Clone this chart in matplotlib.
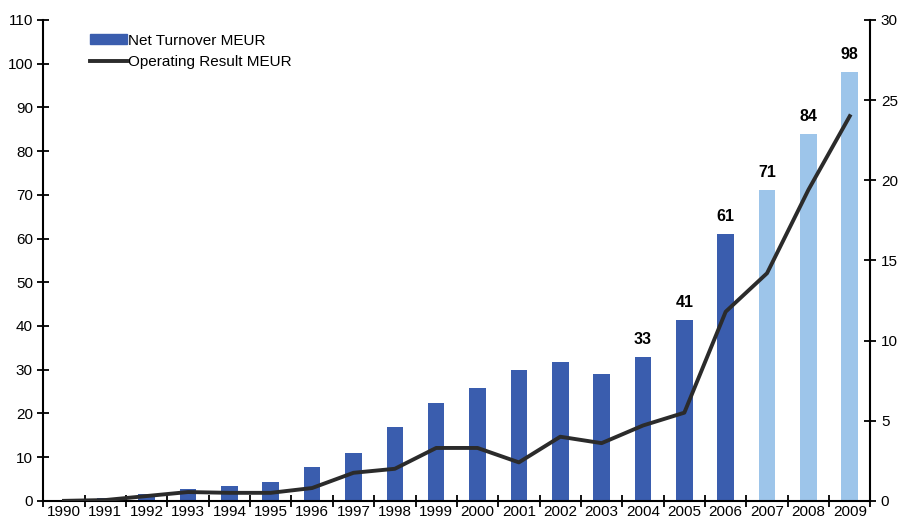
import matplotlib.pyplot as plt
from matplotlib.patches import Patch
from matplotlib.ticker import FixedLocator

plt.rcParams['font.family'] = ['Liberation Sans', 'DejaVu Sans']

years = [str(y) for y in range(1990, 2010)]
turnover = [0.3, 0.6, 1.5, 2.7, 3.4, 4.2, 7.8, 11.0, 17.0, 22.3,
            25.7, 30.0, 31.7, 29.0, 33.0, 41.4, 61.0, 71.0, 84.0, 98.0]
op_result = [0.0, 0.05, 0.3, 0.55, 0.5, 0.5, 0.8, 1.75, 2.0, 3.3,
             3.3, 2.4, 4.0, 3.6, 4.7, 5.5, 11.8, 14.2, 19.4, 24.0]
forecast = [False] * 17 + [True] * 3
labelled = ['2004', '2005', '2006', '2007', '2008', '2009']

DARK = '#3A5DAE'
LIGHT = '#9DC5EA'

fig = plt.figure(figsize=(9.02, 5.25), dpi=100)
ax = fig.add_axes([0.048, 0.046, 0.917, 0.916])
x = list(range(len(years)))
colors = [LIGHT if f else DARK for f in forecast]
ax.bar(x, turnover, width=0.4, color=colors, zorder=2)

for xi, yr, v in zip(x, years, turnover):
    if yr in labelled:
        ax.text(xi, v + 2.3, f'{v:.0f}', ha='center', va='bottom',
                fontsize=11.5, fontweight='bold')

ax.set_xlim(-0.5, len(years) - 0.5)
ax.set_ylim(0, 110)
ax.set_yticks(range(0, 111, 10))
ax.set_xticks(x)
ax.set_xticklabels(years)
ax.xaxis.set_minor_locator(FixedLocator([i + 0.5 for i in range(-1, len(years))]))
ax.tick_params(axis='x', which='major', length=0, labelsize=11, pad=3)
ax.tick_params(axis='x', which='minor', direction='inout', length=8, width=1.3)
ax.tick_params(axis='y', direction='inout', length=8, width=1.3, labelsize=11)
for s in ['top', 'right']:
    ax.spines[s].set_visible(False)
ax.spines['left'].set_linewidth(1.5)
ax.spines['bottom'].set_linewidth(1.5)

ax2 = ax.twinx()
line, = ax2.plot(x, op_result, color='#2B2B2B', linewidth=2.8, zorder=3)
ax2.set_ylim(0, 30)
ax2.set_yticks(range(0, 31, 5))
ax2.tick_params(axis='y', direction='inout', length=8, width=1.3, labelsize=11)
for s in ['top', 'left', 'bottom']:
    ax2.spines[s].set_visible(False)
ax2.spines['right'].set_linewidth(1.5)

handles = [Patch(color=DARK), line]
ax.legend(handles, ['Net Turnover MEUR', 'Operating Result MEUR'],
          loc='upper left', bbox_to_anchor=(0.04, 1.0),
          frameon=False, fontsize=11, handlelength=2.4, handleheight=0.6,
          handletextpad=0.1, labelspacing=0.5)

fig.savefig('out.png', dpi=100)
